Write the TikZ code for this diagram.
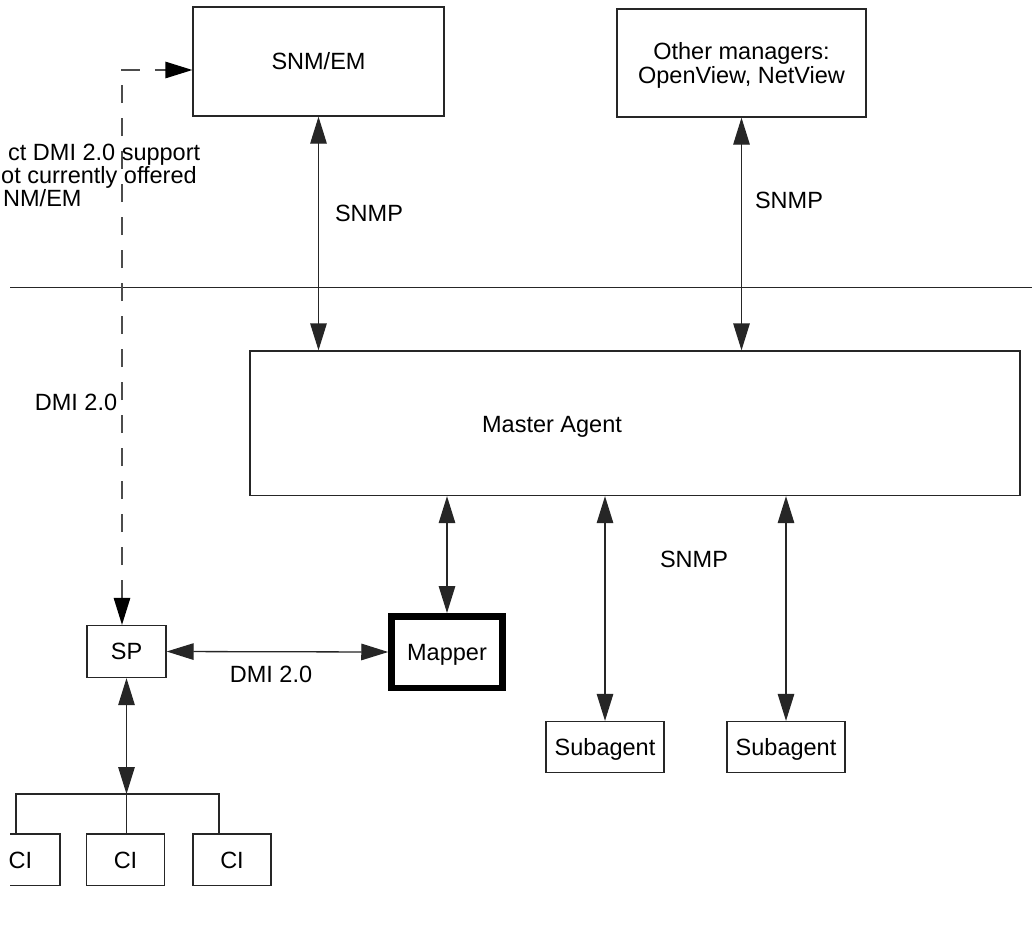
\documentclass[tikz,border=0pt]{standalone}
\usepackage{fontspec}
\setmainfont{Liberation Sans}
\usetikzlibrary{arrows.meta}
\begin{document}
\begin{tikzpicture}[x=1pt,y=-1pt,
  thinline/.style={line width=1.3pt, draw=black!85},
  box/.style={draw=black!85, line width=1.3pt, inner sep=0pt, font=\fontsize{23.5}{23.3}\selectfont},
  txt/.style={text height=16.8pt, text depth=0pt},
  lbl/.style={inner sep=0pt, anchor=base, font=\fontsize{23.5}{23.3}\selectfont},
  tip/.tip={Triangle[length=27pt,width=16.5pt]},
  link/.style={line width=1.3pt, draw=black!85, {tip}-{tip}},
  dlink/.style={line width=1.3pt, draw=black!70, dash pattern=on 18pt off 15pt, {tip[color=black]}-{tip[color=black]}}
  ]
\fill[white] (0,0) rectangle (1032,937);
\useasboundingbox (0,0) rectangle (1032,937);

% boxes
\node[box, txt, minimum width=251pt, minimum height=109pt] (snm) at (318.5,61.5) {SNM/EM};
\node[box, align=center, text depth=0pt, minimum width=249pt, minimum height=108pt] (other) at (741.5,63) {Other managers:\\OpenView, NetView};
\node[box, minimum width=770pt, minimum height=144.5pt] (master) at (635,423.25) {};
\node[lbl] (mtext) at (552,432.5) {Master Agent};
\node[box, txt, draw=black, line width=6.5pt, minimum width=111pt, minimum height=71.5pt] (mapper) at (447,652) {Mapper};
\node[box, txt, minimum width=79pt, minimum height=52pt] (sp) at (126.5,651.5) {SP};
\node[box, txt, minimum width=118pt, minimum height=51pt] (sub1) at (605,747) {Subagent};
\node[box, txt, minimum width=118pt, minimum height=51pt] (sub2) at (786,747) {Subagent};
\node[box, txt, minimum width=78pt, minimum height=51.5pt] (ci2) at (125.5,859.75) {CI};
\node[box, txt, minimum width=78pt, minimum height=51.5pt] (ci3) at (232,859.75) {CI};
% partially visible CI box at the left edge
\draw[thinline] (10,834) -- (60,834) -- (60,885.5) -- (10,885.5);
\node[box, txt, draw=none] (ci1) at (20.5,859.75) {CI};

% separator
\coordinate (sepL) at (10,287.5);
\coordinate (sepR) at (1032,287.5);
\draw[thinline] (sepL) -- (sepR);

% SNMP links
\draw[link] (snm.south) -- (snm.south |- master.north);
\draw[link] (other.south) -- (other.south |- master.north);
\draw[link] (mapper.north |- master.south) -- (mapper.north);
\draw[link] (sub1.north |- master.south) -- (sub1.north);
\draw[link] (sub2.north |- master.south) -- (sub2.north);
\draw[link] (sp.east) -- (mapper.west);

% dashed DMI link
\coordinate (dtop) at (122,70);
\draw[dlink] (dtop |- sp.north) -- (dtop) -- (dtop -| snm.west);

% bus to CIs
\coordinate (busL) at (16,794);
\coordinate (busR) at (219,794);
\coordinate (busM) at (126.5,794);
\draw[link] (sp.south) -- (sp.south |- busM);
\draw[thinline] (busL |- ci2.north) -- (busL) -- (busR) -- (busR |- ci3.north);
\draw[thinline] (busM) -- (busM |- ci2.north);

% labels
\node[lbl] (l1) at (369,221.7) {SNMP};
\node[lbl] (l2) at (789,208.5) {SNMP};
\node[lbl] (l3) at (694,567) {SNMP};
\node[lbl] (l4) at (271,682.7) {DMI 2.0};
\node[lbl] (l5) at (76,410) {DMI 2.0};
\node[lbl, anchor=base west] (n1) at (8,160) {ct DMI 2.0 support};
\node[lbl, anchor=base west] (n2) at (1,183.3) {ot currently offered};
\node[lbl, anchor=base west] (n3) at (3,206.7) {NM/EM};
\end{tikzpicture}
\end{document}
